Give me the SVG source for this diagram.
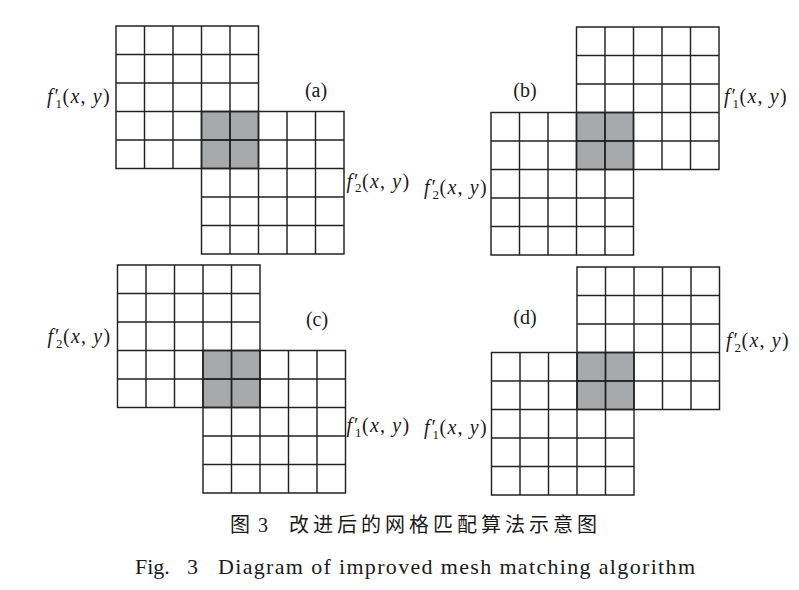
<svg xmlns="http://www.w3.org/2000/svg" xmlns:xlink="http://www.w3.org/1999/xlink" width="799" height="590" viewBox="0 0 799 590">
<style>
.grid{fill:none;stroke:#222;stroke-width:1.45}
.shade{fill:#a6a8aa}
.lbl{font-family:"Liberation Serif","DejaVu Serif",serif;font-size:20px;fill:#1a1a1a}
.it{font-style:italic}
.sub{font-size:13px}
.xy{letter-spacing:1.2px}
.tag{font-family:"Liberation Serif","DejaVu Serif",serif;font-size:20px;fill:#1a1a1a;text-anchor:middle}
.cn{font-family:"Liberation Serif","Noto Sans CJK SC",serif;font-size:20px;fill:#1a1a1a}
.en{font-family:"Liberation Serif","DejaVu Serif",serif;font-size:22px;fill:#1a1a1a}
</style>
<defs>
<path id="grid5" class="grid" d="M0 0H142.5V142.5H0Z M28.5 0V142.5 M57 0V142.5 M85.5 0V142.5 M114 0V142.5 M0 28.5H142.5 M0 57H142.5 M0 85.5H142.5 M0 114H142.5"/>
</defs>

<!-- Panel (a) -->
<g id="panel-a">
  <rect class="shade" x="201.5" y="111.5" width="57" height="57"/>
  <g id="a-f1"><use xlink:href="#grid5" href="#grid5" x="116" y="26"/></g>
  <g id="a-f2"><use xlink:href="#grid5" href="#grid5" x="201.5" y="111.5"/></g>
  <text id="a-lbl1" class="lbl" transform="translate(47,103)" x="0" y="0"><tspan class="it">f</tspan><tspan x="7.5" y="0">′</tspan><tspan class="sub" x="8.5" y="4.5">1</tspan><tspan class="xy" x="15.5" y="0">(<tspan class="it">x</tspan>, <tspan class="it">y</tspan>)</tspan></text>
  <text id="a-lbl2" class="lbl" transform="translate(346.5,187.5)" x="0" y="0"><tspan class="it">f</tspan><tspan x="7.5" y="0">′</tspan><tspan class="sub" x="8.5" y="4.5">2</tspan><tspan class="xy" x="15.5" y="0">(<tspan class="it">x</tspan>, <tspan class="it">y</tspan>)</tspan></text>
  <text class="tag" x="316" y="97">(a)</text>
</g>

<!-- Panel (b) -->
<g id="panel-b">
  <rect class="shade" x="576.5" y="112.5" width="57" height="57"/>
  <g id="b-f1"><use xlink:href="#grid5" href="#grid5" x="576.5" y="27"/></g>
  <g id="b-f2"><use xlink:href="#grid5" href="#grid5" x="491" y="112.5"/></g>
  <text id="b-lbl1" class="lbl" transform="translate(724,103)" x="0" y="0"><tspan class="it">f</tspan><tspan x="7.5" y="0">′</tspan><tspan class="sub" x="8.5" y="4.5">1</tspan><tspan class="xy" x="15.5" y="0">(<tspan class="it">x</tspan>, <tspan class="it">y</tspan>)</tspan></text>
  <text id="b-lbl2" class="lbl" transform="translate(424,194)" x="0" y="0"><tspan class="it">f</tspan><tspan x="7.5" y="0">′</tspan><tspan class="sub" x="8.5" y="4.5">2</tspan><tspan class="xy" x="15.5" y="0">(<tspan class="it">x</tspan>, <tspan class="it">y</tspan>)</tspan></text>
  <text class="tag" x="525" y="97">(b)</text>
</g>

<!-- Panel (c) -->
<g id="panel-c">
  <rect class="shade" x="203" y="350.5" width="57" height="57"/>
  <g id="c-f2"><use xlink:href="#grid5" href="#grid5" x="117.5" y="265"/></g>
  <g id="c-f1"><use xlink:href="#grid5" href="#grid5" x="203" y="350.5"/></g>
  <text id="c-lbl2" class="lbl" transform="translate(47.5,343)" x="0" y="0"><tspan class="it">f</tspan><tspan x="7.5" y="0">′</tspan><tspan class="sub" x="8.5" y="4.5">2</tspan><tspan class="xy" x="15.5" y="0">(<tspan class="it">x</tspan>, <tspan class="it">y</tspan>)</tspan></text>
  <text id="c-lbl1" class="lbl" transform="translate(346.5,432)" x="0" y="0"><tspan class="it">f</tspan><tspan x="7.5" y="0">′</tspan><tspan class="sub" x="8.5" y="4.5">1</tspan><tspan class="xy" x="15.5" y="0">(<tspan class="it">x</tspan>, <tspan class="it">y</tspan>)</tspan></text>
  <text class="tag" x="317" y="326">(c)</text>
</g>

<!-- Panel (d) -->
<g id="panel-d">
  <rect class="shade" x="577" y="352.5" width="57" height="57"/>
  <g id="d-f2"><use xlink:href="#grid5" href="#grid5" x="577" y="267"/></g>
  <g id="d-f1"><use xlink:href="#grid5" href="#grid5" x="491.5" y="352.5"/></g>
  <text id="d-lbl2" class="lbl" transform="translate(726,347)" x="0" y="0"><tspan class="it">f</tspan><tspan x="7.5" y="0">′</tspan><tspan class="sub" x="8.5" y="4.5">2</tspan><tspan class="xy" x="15.5" y="0">(<tspan class="it">x</tspan>, <tspan class="it">y</tspan>)</tspan></text>
  <text id="d-lbl1" class="lbl" transform="translate(424,434)" x="0" y="0"><tspan class="it">f</tspan><tspan x="7.5" y="0">′</tspan><tspan class="sub" x="8.5" y="4.5">1</tspan><tspan class="xy" x="15.5" y="0">(<tspan class="it">x</tspan>, <tspan class="it">y</tspan>)</tspan></text>
  <text class="tag" x="525" y="324">(d)</text>
</g>

<g id="connectors"/>

<!-- Caption -->
<g id="caption">
  <text class="cn" x="230" y="532">图</text>
  <text class="cn" x="258" y="532">3</text>
  <text class="cn" x="289" y="532" textLength="308" lengthAdjust="spacing">改进后的网格匹配算法示意图</text>
  <text class="en" x="135" y="574">Fig.</text>
  <text class="en" x="187" y="574">3</text>
  <text class="en" x="218" y="574" textLength="477" lengthAdjust="spacing">Diagram of improved mesh matching algorithm</text>
</g>
</svg>
